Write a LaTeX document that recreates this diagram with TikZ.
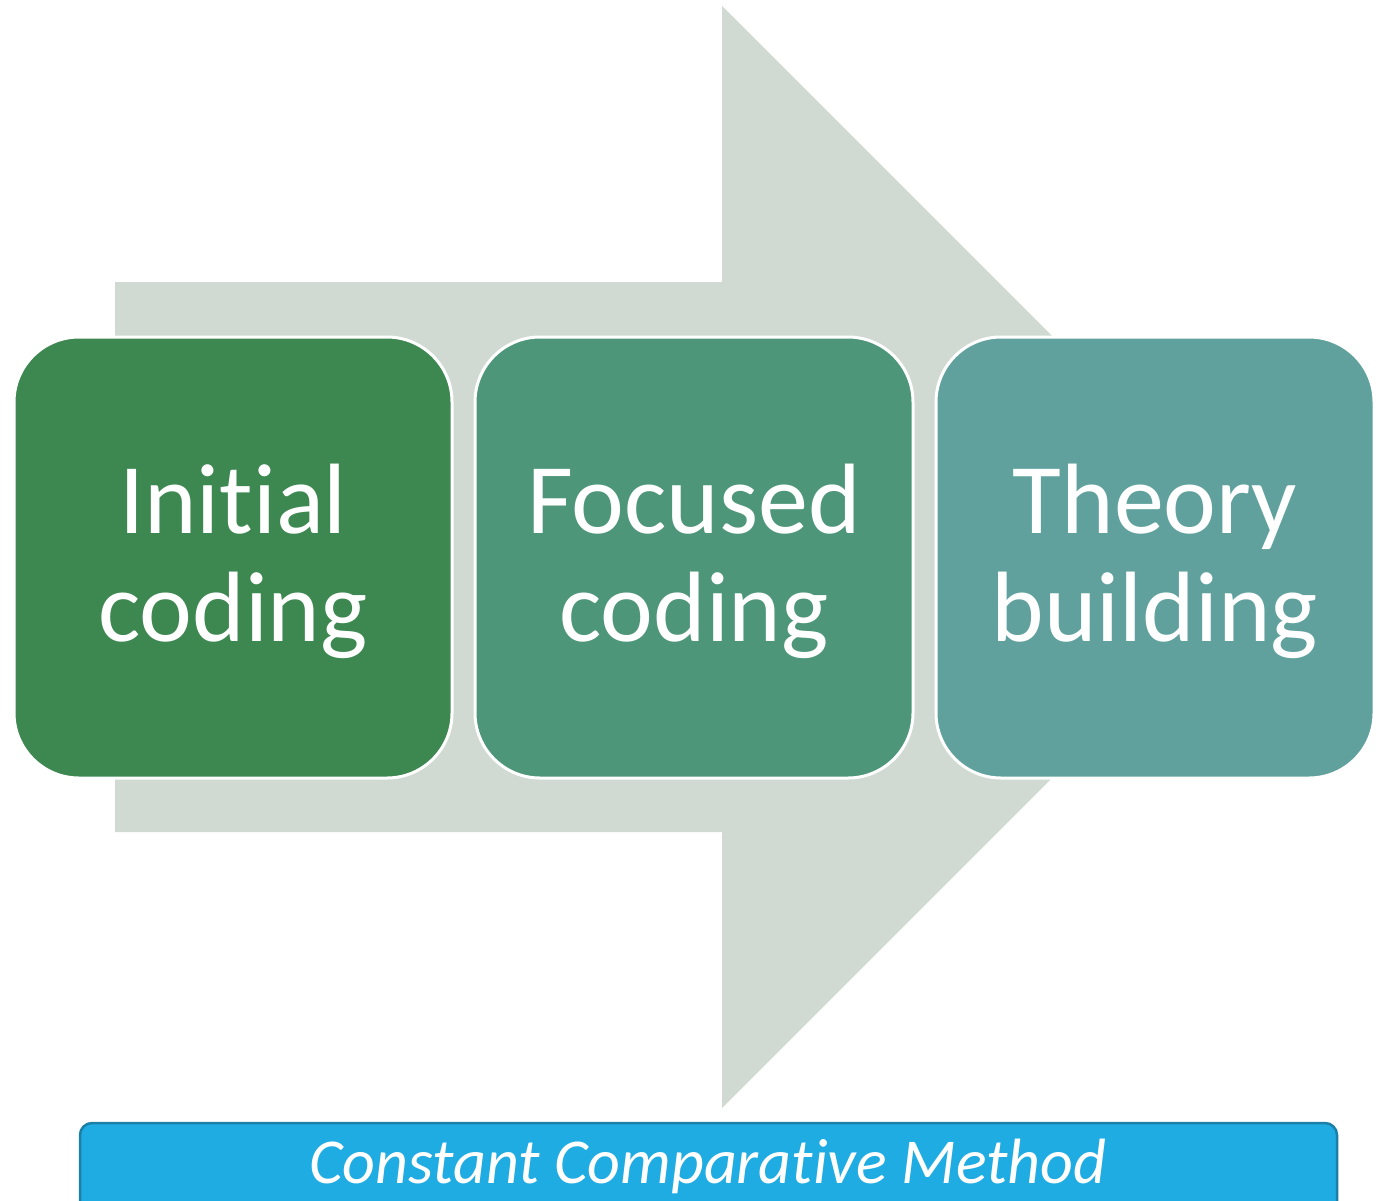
\documentclass[tikz,border=0pt]{standalone}
\usepackage{fontspec}
\setmainfont[Ligatures=NoCommon]{Carlito}
\begin{document}
\begin{tikzpicture}[x=1pt,y=-1pt,
  stage/.style={draw=white,line width=3pt,rounded corners=65pt,minimum width=438pt,minimum height=441pt,anchor=north west,inner sep=0pt,outer sep=0pt},
  label/.style={text=white,font=\fontsize{100}{108}\selectfont,align=center},
  bar/.style={draw=barline,fill=barfill,line width=2.5pt,rounded corners=12pt}]
\definecolor{arrowfill}{HTML}{D0DAD2}
\definecolor{stageA}{HTML}{3D8751}
\definecolor{stageB}{HTML}{4E9679}
\definecolor{stageC}{HTML}{60A19E}
\definecolor{barfill}{HTML}{1FACE3}
\definecolor{barline}{HTML}{1A80A8}
\useasboundingbox (0,0) rectangle (1384,1200);
\begin{scope}
\clip (0,0) rectangle (1384,1200);
% big process arrow behind the stages
\fill[arrowfill] (115,282) -- (722,282) -- (722,6) -- (1273,557) -- (722,1108) -- (722,832) -- (115,832) -- cycle;
% stages
\node[stage,fill=stageA] (s1) at (14,337) {};
\node[stage,fill=stageB] (s2) at (475,337) {};
\node[stage,fill=stageC] (s3) at (936,337) {};
\node[label] (t1) at ([yshift=-4pt]s1.center) {Initial\\coding};
\node[label] (t2) at ([yshift=-4pt]s2.center) {Focused\\coding};
\node[label] (t3) at ([yshift=-4pt]s3.center) {Theory\\building};
% method bar
\draw[bar] (80,1123) rectangle (1337,1230);
\node[text=white,font=\fontsize{64}{70}\selectfont\itshape] (m) at (708,1166) {Constant Comparative Method};
\end{scope}
\end{tikzpicture}
\end{document}
